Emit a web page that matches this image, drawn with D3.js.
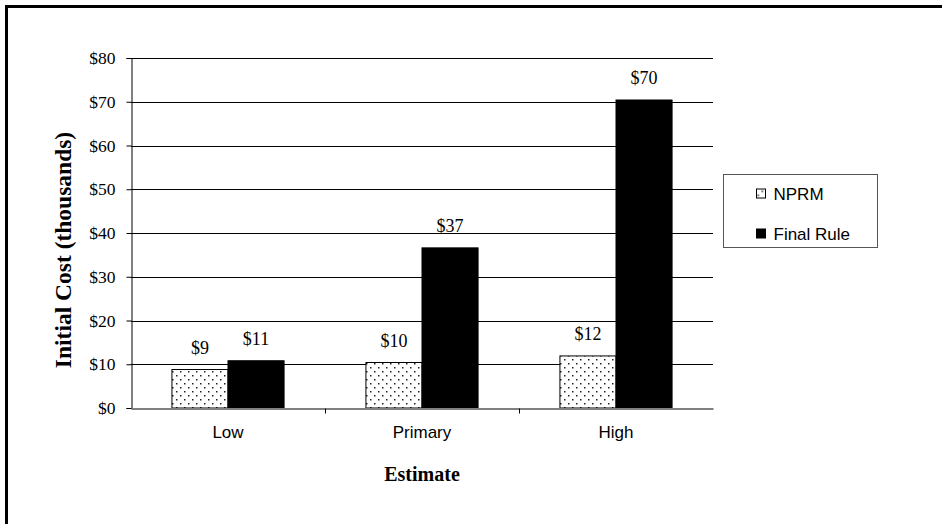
<!DOCTYPE html>
<html>
<head>
<meta charset="utf-8">
<script src="https://cdn.jsdelivr.net/npm/d3@7"></script>
<style>
  body { margin: 0; background: #fff; }
  svg { display: block; }
</style>
</head>
<body>
<div id="chart"></div>
<script>
// chart data
const categories = ['Low', 'Primary', 'High'];
const seriesNames = ['NPRM', 'Final Rule'];
const nprmValues = [8.8, 10.4, 11.9];
const finalRuleValues = [10.8, 36.6, 70.4];
const valueLabels = [['$9', '$10', '$12'], ['$11', '$37', '$70']];
const yTicks = [0, 10, 20, 30, 40, 50, 60, 70, 80];

const W = 942, H = 524;
const margin = { top: 58, left: 131, right: 229, bottom: 116 };
const width = W - margin.left - margin.right;
const height = H - margin.top - margin.bottom;

const serif = '"Liberation Serif", "Times New Roman", serif';
const sans = '"Liberation Sans", Arial, sans-serif';

const svg = d3.select('#chart').append('svg')
  .attr('width', W)
  .attr('height', H);

const defs = svg.append('defs');
const pat = defs.append('pattern')
  .attr('id', 'dots')
  .attr('patternUnits', 'userSpaceOnUse')
  .attr('width', 8)
  .attr('height', 8);
pat.append('rect').attr('width', 8).attr('height', 8).attr('fill', '#fff');
pat.append('rect').attr('x', 1).attr('y', 1).attr('width', 1.5).attr('height', 1.5).attr('fill', '#222');
pat.append('rect').attr('x', 5).attr('y', 5).attr('width', 1.5).attr('height', 1.5).attr('fill', '#222');

// outer frame (right/bottom sides fall outside the picture)
svg.append('rect')
  .attr('x', 6.5).attr('y', 6.5)
  .attr('width', 1200).attr('height', 1200)
  .attr('fill', 'none')
  .attr('stroke', '#000')
  .attr('stroke-width', 3);

const g = svg.append('g').attr('transform', `translate(${margin.left},${margin.top})`);

const x0 = d3.scaleBand().domain(categories).range([0, width]).padding(0);
const x1 = d3.scaleBand().domain(seriesNames).range([0, x0.bandwidth()])
  .paddingInner(0).paddingOuter(0.73);
const y = d3.scaleLinear().domain([0, 80]).range([height, 0]);

// gridlines
g.append('g')
  .selectAll('line')
  .data(yTicks.slice(1))
  .enter()
  .append('line')
  .attr('x1', 0)
  .attr('x2', width)
  .attr('y1', d => Math.round(y(d)) + 0.5)
  .attr('y2', d => Math.round(y(d)) + 0.5)
  .attr('stroke', '#000')
  .attr('stroke-width', 1);

// bars
const rows = categories.map((c, i) => ({ cat: c, vals: [nprmValues[i], finalRuleValues[i]] }));
const groups = g.append('g').selectAll('g')
  .data(rows)
  .enter()
  .append('g')
  .attr('transform', d => `translate(${x0(d.cat)},0)`);

groups.selectAll('rect')
  .data(d => d.vals.map((v, j) => ({ s: seriesNames[j], v })))
  .enter()
  .append('rect')
  .attr('x', d => x1(d.s))
  .attr('y', d => y(d.v))
  .attr('width', x1.bandwidth())
  .attr('height', d => height - y(d.v))
  .attr('fill', d => d.s === 'NPRM' ? 'url(#dots)' : '#000')
  .attr('stroke', '#000')
  .attr('stroke-width', 1);

groups.selectAll('text')
  .data((d, i) => d.vals.map((v, j) => ({ s: seriesNames[j], v, label: valueLabels[j][i] })))
  .enter()
  .append('text')
  .attr('x', d => x1(d.s) + x1.bandwidth() / 2)
  .attr('y', d => y(d.v) - 16)
  .attr('text-anchor', 'middle')
  .style('font-family', serif)
  .style('font-size', '18px')
  .text(d => d.label);

// y axis
const yAxis = g.append('g')
  .attr('transform', 'translate(0.5,0)')
  .call(d3.axisLeft(y).tickValues(yTicks).tickSize(5).tickPadding(11).tickFormat(d => '$' + d));
yAxis.selectAll('text')
  .style('font-family', serif)
  .style('font-size', '17.5px')
  .attr('fill', '#000');
yAxis.selectAll('line, path').attr('stroke', '#000');

// x axis
const xAxis = g.append('g')
  .attr('transform', `translate(0,${height + 0.5})`)
  .call(d3.axisBottom(x0).tickSize(0).tickPadding(17));
xAxis.select('path').attr('stroke', '#808080').attr('stroke-width', 2);
xAxis.selectAll('text')
  .style('font-family', sans)
  .style('font-size', '17px')
  .attr('fill', '#000');
// boundary ticks between categories
xAxis.append('g')
  .selectAll('line')
  .data(categories.slice(1))
  .enter()
  .append('line')
  .attr('x1', d => Math.round(x0(d)) + 0.5)
  .attr('x2', d => Math.round(x0(d)) + 0.5)
  .attr('y1', 0)
  .attr('y2', 5)
  .attr('stroke', '#000');

// axis titles
svg.append('text')
  .attr('x', margin.left + width / 2)
  .attr('y', 481)
  .attr('text-anchor', 'middle')
  .style('font-family', serif)
  .style('font-size', '20px')
  .style('font-weight', 'bold')
  .text('Estimate');

svg.append('text')
  .attr('transform', `translate(71,${250}) rotate(-90)`)
  .attr('text-anchor', 'middle')
  .style('font-family', serif)
  .style('font-size', '23.5px')
  .style('font-weight', 'bold')
  .text('Initial Cost (thousands)');

// legend
const legend = svg.append('g').attr('transform', 'translate(723.5,174.5)');
legend.append('rect')
  .attr('width', 154)
  .attr('height', 73)
  .attr('fill', '#fff')
  .attr('stroke', '#555')
  .attr('stroke-width', 1);

const li = legend.selectAll('g.item')
  .data(seriesNames)
  .enter()
  .append('g')
  .attr('class', 'item')
  .attr('transform', (d, i) => `translate(33,${19 + i * 40})`);
li.append('rect')
  .attr('x', 0)
  .attr('y', -4.5)
  .attr('width', 9)
  .attr('height', 9)
  .attr('fill', d => d === 'NPRM' ? 'url(#dots)' : '#000')
  .attr('stroke', '#000');
li.append('text')
  .attr('x', 17)
  .attr('y', 6)
  .style('font-family', sans)
  .style('font-size', '17px')
  .text(d => d);
</script>
</body>
</html>
